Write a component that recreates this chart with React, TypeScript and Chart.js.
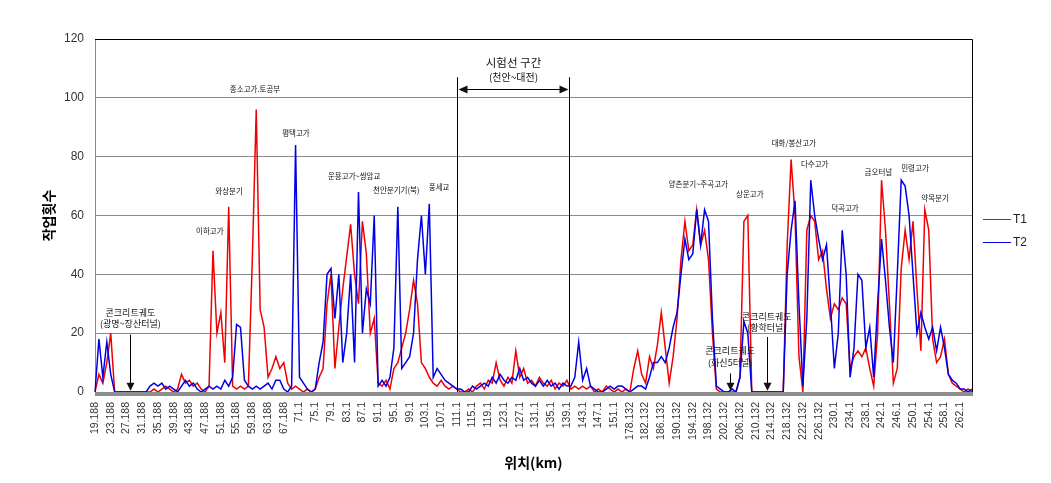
import React, { useEffect, useRef } from 'react';
import { Chart, registerables } from 'chart.js';

Chart.register(...registerables);

// x-axis tick labels (km), one every 4 categories
const tickLabels = [
  '19.188', '23.188', '27.188', '31.188', '35.188', '39.188', '43.188', '47.188', '51.188', '55.188',
  '59.188', '63.188', '67.188', '71.1', '75.1', '79.1', '83.1', '87.1', '91.1', '95.1', '99.1',
  '103.1', '107.1', '111.1', '115.1', '119.1', '123.1', '127.1', '131.1', '135.1', '139.1', '143.1',
  '147.1', '151.1', '178.132', '182.132', '186.132', '190.132', '194.132', '198.132', '202.132',
  '206.132', '210.132', '214.132', '218.132', '222.132', '226.132', '230.1', '234.1', '238.1',
  '242.1', '246.1', '250.1', '254.1', '258.1', '262.1',
];
const pointsPerTick = 4;

const seriesNames = ['T1', 'T2'];

const t1 = [
  0, 6, 3, 10, 20, 0, 0, 0, 0, 0, 0, 0, 0, 0, 0, 1,
  0, 1, 2, 1, 0, 1, 6, 3, 4, 2, 3, 1, 0, 2, 48, 20,
  27, 10, 63, 2, 1, 2, 1, 2, 45, 96, 28, 22, 5, 8, 12, 8,
  10, 3, 1, 2, 1, 0, 1, 0, 1, 5, 8, 30, 40, 8, 22, 35,
  46, 57, 40, 30, 58, 47, 20, 25, 3, 2, 4, 1, 8, 10, 15, 20,
  28, 38, 30, 10, 8, 5, 3, 2, 4, 2, 1, 2, 1, 0, 0, 1,
  0, 2, 3, 1, 4, 3, 10, 4, 2, 5, 3, 14, 5, 8, 3, 4,
  2, 5, 3, 2, 4, 1, 3, 2, 4, 1, 2, 1, 2, 1, 2, 0,
  1, 0, 2, 1, 0, 1, 0, 1, 0, 8, 14, 6, 3, 12, 8, 16,
  27, 15, 3, 12, 25, 45, 58, 48, 50, 62, 50, 55, 45, 20, 1, 0,
  0, 0, 0, 0, 5, 58, 60, 0, 0, 0, 0, 0, 0, 0, 0, 0,
  50, 79, 60, 12, 0, 55, 60, 58, 45, 48, 35, 25, 30, 28, 32, 30,
  8, 12, 14, 12, 15, 8, 2, 20, 72, 55, 30, 3, 8, 42, 55, 45,
  58, 35, 14, 62, 55, 18, 10, 12, 18, 6, 3, 2, 1, 0, 1, 0,
];

const t2 = [
  0, 18, 5, 17, 6, 0, 0, 0, 0, 0, 0, 0, 0, 0, 2, 3,
  2, 3, 1, 2, 1, 0, 2, 4, 2, 3, 1, 0, 1, 2, 1, 2,
  1, 4, 2, 5, 23, 22, 4, 2, 1, 2, 1, 2, 3, 1, 4, 4,
  1, 0, 2, 84, 5, 3, 1, 0, 1, 10, 17, 40, 42, 25, 40, 10,
  20, 40, 10, 68, 20, 35, 30, 60, 2, 4, 2, 5, 15, 63, 8, 10,
  12, 20, 45, 60, 40, 64, 5, 8, 6, 4, 3, 2, 1, 1, 0, 0,
  2, 1, 2, 3, 2, 5, 3, 6, 4, 3, 5, 4, 8, 4, 5, 3,
  2, 4, 2, 4, 2, 3, 1, 3, 2, 2, 5, 17, 4, 8, 2, 1,
  0, 0, 1, 2, 1, 2, 2, 1, 0, 1, 2, 2, 1, 5, 10, 10,
  12, 10, 15, 22, 27, 40, 52, 45, 47, 62, 50, 62, 58, 25, 2, 1,
  0, 0, 1, 0, 5, 24, 20, 0, 0, 0, 0, 0, 0, 0, 0, 0,
  40, 55, 65, 30, 2, 25, 72, 60, 52, 45, 50, 30, 8, 20, 55, 40,
  5, 15, 40, 38, 15, 22, 5, 30, 52, 38, 22, 10, 40, 72, 70, 60,
  40, 20, 27, 22, 18, 22, 14, 22, 15, 6, 4, 3, 1, 1, 0, 1,
];

// text notes anchored in data units (category index, value)
const notes = [
  { lines: ['콘크리트궤도', '(광명~장산터널)'], index: 9, value: 27, big: true, arrowFrom: 19.5 },
  { lines: ['이하고가'], index: 29.2, value: 54.8 },
  { lines: ['와상분기'], index: 34.1, value: 68.4 },
  { lines: ['종소고가.토공부'], index: 40.7, value: 103 },
  { lines: ['평택고가'], index: 51.1, value: 88.1 },
  { lines: ['운용고가~쌍암교'], index: 65.9, value: 73.5 },
  { lines: ['천안분기기(북)'], index: 76.6, value: 68.7 },
  { lines: ['풍세교'], index: 87.5, value: 69.6 },
  { lines: ['양촌분기~주곡고가'], index: 153.4, value: 70.7 },
  { lines: ['상운고가'], index: 166.5, value: 67.3 },
  { lines: ['대화/봉산고가'], index: 177.7, value: 84.5 },
  { lines: ['다수고가'], index: 183, value: 77.4 },
  { lines: ['덕곡고가'], index: 190.7, value: 62.4 },
  { lines: ['금오터널'], index: 199.2, value: 74.9 },
  { lines: ['민령고가'], index: 208.5, value: 76 },
  { lines: ['약목분기'], index: 213.6, value: 65.8 },
  { lines: ['콘크리트궤도', '(황학터널)'], index: 170.8, value: 25.8, big: true, arrowFrom: 18.7 },
  { lines: ['콘크리트궤도', '(화신5터널)'], index: 161.5, value: 14, big: true, arrowFrom: 6.3 },
];

const testSection = {
  fromIndex: 92,
  toIndex: 120.5,
  lineTop: 107,
  arrowValue: 103,
  title: '시험선 구간',
  titleValue: 111.8,
  sub: '(천안~대전)',
  subValue: 107,
};

const categories: string[] = [];
tickLabels.forEach((t) => {
  for (let k = 0; k < pointsPerTick; k++) categories.push(k === 0 ? t : '');
});

const KFONT = "'Noto Sans CJK KR', 'Liberation Sans', sans-serif";
const LFONT = "'Liberation Sans', 'Noto Sans CJK KR', sans-serif";

function arrowHead(ctx: CanvasRenderingContext2D, x: number, y: number, dir: 'down' | 'left' | 'right') {
  ctx.beginPath();
  if (dir === 'down') {
    ctx.moveTo(x, y);
    ctx.lineTo(x - 4, y - 8);
    ctx.lineTo(x + 4, y - 8);
  } else if (dir === 'left') {
    ctx.moveTo(x, y);
    ctx.lineTo(x + 9, y - 4);
    ctx.lineTo(x + 9, y + 4);
  } else {
    ctx.moveTo(x, y);
    ctx.lineTo(x - 9, y - 4);
    ctx.lineTo(x - 9, y + 4);
  }
  ctx.closePath();
  ctx.fill();
}

const framePlugin = {
  id: 'frame',
  beforeDatasetsDraw(chart: any) {
    const { ctx, chartArea } = chart;
    const { left, right, top, bottom } = chartArea;
    ctx.save();
    ctx.fillStyle = '#8e8e8e';
    ctx.fillRect(left, bottom, right - left + 1, 4);
    ctx.strokeStyle = '#000';
    ctx.lineWidth = 1;
    ctx.beginPath();
    ctx.moveTo(left, top + 0.5);
    ctx.lineTo(right + 0.5, top + 0.5);
    ctx.lineTo(right + 0.5, bottom);
    ctx.stroke();
    ctx.restore();
  },
};

const notesPlugin = {
  id: 'notes',
  afterDatasetsDraw(chart: any) {
    const { ctx } = chart;
    const xs = chart.scales.x;
    const ys = chart.scales.y;
    ctx.save();
    ctx.fillStyle = '#111';
    ctx.strokeStyle = '#000';
    ctx.textAlign = 'center';
    ctx.textBaseline = 'middle';
    notes.forEach((n: any) => {
      const x = xs.getPixelForValue(n.index);
      const y = ys.getPixelForValue(n.value);
      ctx.font = `${n.big ? 9 : 7.5}px ${KFONT}`;
      n.lines.forEach((line: string, i: number) => {
        ctx.fillText(line, x, y + i * 11.5);
      });
      if (n.arrowFrom !== undefined) {
        const ax = Math.round(x) + 0.5;
        const y1 = ys.getPixelForValue(n.arrowFrom);
        const y2 = ys.getPixelForValue(0.4);
        ctx.lineWidth = 1;
        ctx.beginPath();
        ctx.moveTo(ax, y1);
        ctx.lineTo(ax, y2 - 6);
        ctx.stroke();
        arrowHead(ctx, ax, y2, 'down');
      }
    });
    // test section
    const s = testSection;
    const x1 = Math.round(xs.getPixelForValue(s.fromIndex)) + 0.5;
    const x2 = Math.round(xs.getPixelForValue(s.toIndex)) + 0.5;
    const yt = ys.getPixelForValue(s.lineTop);
    const yb = ys.getPixelForValue(0);
    const ya = Math.round(ys.getPixelForValue(s.arrowValue)) + 0.5;
    ctx.lineWidth = 1;
    ctx.beginPath();
    ctx.moveTo(x1, yt);
    ctx.lineTo(x1, yb);
    ctx.moveTo(x2, yt);
    ctx.lineTo(x2, yb);
    ctx.moveTo(x1 + 6, ya);
    ctx.lineTo(x2 - 6, ya);
    ctx.stroke();
    arrowHead(ctx, x1 + 1, ya, 'left');
    arrowHead(ctx, x2 - 1, ya, 'right');
    const xm = (x1 + x2) / 2;
    ctx.font = `11.5px ${KFONT}`;
    ctx.fillText(s.title, xm, ys.getPixelForValue(s.titleValue));
    ctx.font = `10px ${KFONT}`;
    ctx.fillText(s.sub, xm, ys.getPixelForValue(s.subValue));
    ctx.restore();
  },
};

const legendPlugin = {
  id: 'sideLegend',
  afterDraw(chart: any) {
    const { ctx, chartArea } = chart;
    ctx.save();
    ctx.font = `12px ${LFONT}`;
    ctx.textAlign = 'left';
    ctx.textBaseline = 'middle';
    chart.data.datasets.forEach((ds: any, i: number) => {
      const y = Math.round(chartArea.top + 180 + i * 23) + 0.5;
      const x = chartArea.right + 11;
      ctx.strokeStyle = ds.borderColor;
      ctx.lineWidth = 1;
      ctx.beginPath();
      ctx.moveTo(x, y);
      ctx.lineTo(x + 28, y);
      ctx.stroke();
      ctx.fillStyle = '#222';
      ctx.fillText(ds.label, x + 30, y);
    });
    ctx.restore();
  },
};

export default function App() {
  const ref = useRef<HTMLCanvasElement>(null);
  useEffect(() => {
    if (!ref.current) return;
    const chart = new Chart(ref.current, {
      type: 'line',
      data: {
        labels: categories,
        datasets: [
          { label: seriesNames[0], data: t1, borderColor: '#f00000', borderWidth: 1.5, pointRadius: 0, tension: 0, order: 1 },
          { label: seriesNames[1], data: t2, borderColor: '#0000e6', borderWidth: 1.5, pointRadius: 0, tension: 0, order: 0 },
        ],
      },
      options: {
        animation: false,
        responsive: false,
        events: [],
        layout: { padding: { left: 36, right: 79, top: 39, bottom: 8 } },
        plugins: { legend: { display: false }, tooltip: { enabled: false } },
        scales: {
          x: {
            type: 'category',
            offset: false,
            grid: { display: false, drawTicks: false },
            border: { display: false },
            ticks: {
              autoSkip: false,
              minRotation: 90,
              maxRotation: 90,
              padding: 10,
              color: '#333',
              font: { size: 10.5, family: LFONT },
              callback: (_v: any, i: number) => categories[i],
            },
            title: {
              display: true,
              text: '위치(km)',
              color: '#000',
              font: { size: 14, weight: 'bold', family: KFONT },
              padding: { top: 4, bottom: 4 },
            },
            afterFit: (s: any) => { s.height = 83; },
          },
          y: {
            min: 0,
            max: 120,
            ticks: { stepSize: 20, padding: 11, color: '#333', font: { size: 12, family: LFONT } },
            grid: {
              drawTicks: false,
              lineWidth: 1,
              color: (c: any) => (c.tick && c.tick.value === 120 ? '#000' : '#8a8a8a'),
            },
            border: { display: true, color: '#8a8a8a' },
            title: {
              display: true,
              text: '작업횟수',
              color: '#000',
              font: { size: 14, weight: 'bold', family: KFONT },
              padding: { top: 4, bottom: 4 },
            },
            afterFit: (s: any) => { s.width = 59; },
          },
        },
      } as any,
      plugins: [framePlugin, notesPlugin, legendPlugin],
    });
    return () => chart.destroy();
  }, []);
  return (
    <div style={{ position: 'fixed', left: 0, top: 0, width: 1051, height: 483, background: '#fff' }}>
      <canvas ref={ref} width={1051} height={483} style={{ display: 'block' }} />
    </div>
  );
}
